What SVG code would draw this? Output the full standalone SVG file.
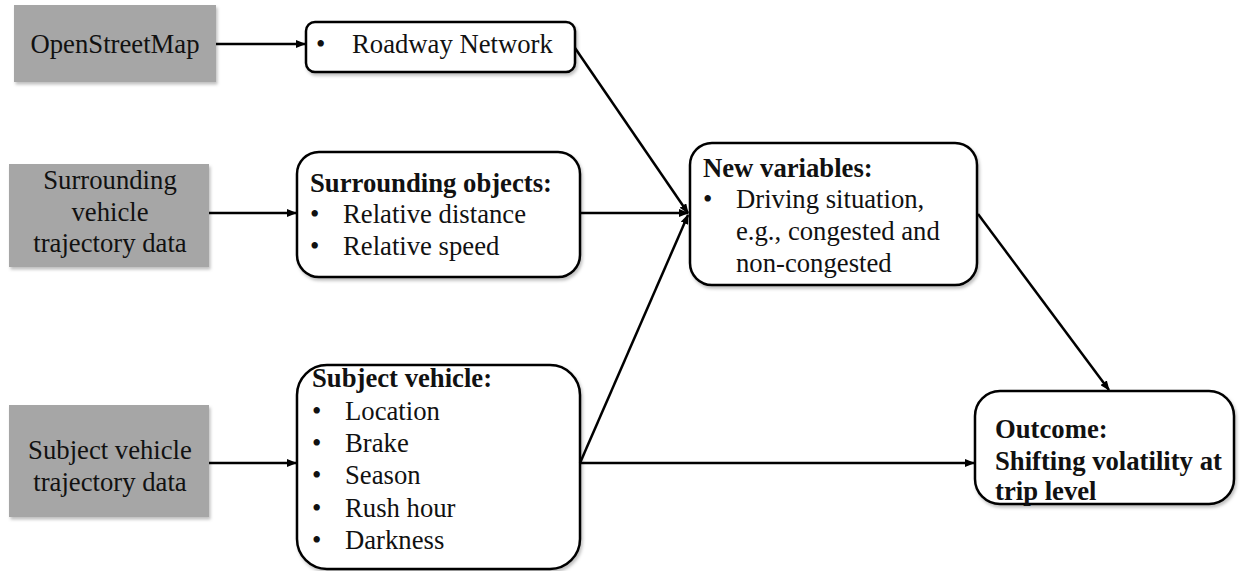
<svg xmlns="http://www.w3.org/2000/svg" width="1241" height="571" viewBox="0 0 1241 571">
  <defs>
    <style>
      text { font-family: "Liberation Serif", "Times New Roman", serif; font-size: 26.7px; fill: #111; }
      .b { font-weight: bold; }
      .src { fill: #a6a6a6; }
      .box { fill: #fff; stroke: #000; stroke-width: 2.5; }
      .conn { stroke: #000; stroke-width: 2.5; fill: none; }
    </style>
    <filter id="shadow" x="-5%" y="-5%" width="115%" height="120%">
      <feDropShadow dx="1.5" dy="2.5" stdDeviation="1.5" flood-color="#000" flood-opacity="0.25"/>
    </filter>
    <marker id="arrow" markerUnits="userSpaceOnUse" markerWidth="10" markerHeight="8" refX="9" refY="4" orient="auto">
      <path d="M0,0 L10,4 L0,8 z" fill="#000"/>
    </marker>
  </defs>

  <!-- data sources -->
  <g id="osm">
    <rect class="src" x="14" y="5" width="202" height="77" filter="url(#shadow)"/>
    <text x="115" y="53" text-anchor="middle">OpenStreetMap</text>
  </g>
  <g id="surrounding-data">
    <rect class="src" x="9" y="164" width="200" height="103" filter="url(#shadow)"/>
    <text x="110" y="189" text-anchor="middle">Surrounding</text>
    <text x="110" y="221" text-anchor="middle">vehicle</text>
    <text x="110" y="252" text-anchor="middle">trajectory data</text>
  </g>
  <g id="subject-data">
    <rect class="src" x="9" y="405" width="200" height="112" filter="url(#shadow)"/>
    <text x="110" y="459" text-anchor="middle">Subject vehicle</text>
    <text x="110" y="491" text-anchor="middle">trajectory data</text>
  </g>

  <!-- variable groups -->
  <g id="roadway">
    <rect class="box" x="306" y="22" width="269" height="50" rx="9" filter="url(#shadow)"/>
    <text x="316" y="53">•</text>
    <text x="352" y="53">Roadway Network</text>
  </g>
  <g id="surrounding-objects">
    <rect class="box" x="297" y="152" width="283" height="125" rx="22" filter="url(#shadow)"/>
    <text class="b" x="310" y="192">Surrounding objects:</text>
    <text x="310" y="223">•</text>
    <text x="343" y="223">Relative distance</text>
    <text x="310" y="255">•</text>
    <text x="343" y="255">Relative speed</text>
  </g>
  <g id="subject-vehicle">
    <rect class="box" x="297" y="365" width="283" height="204" rx="30" filter="url(#shadow)"/>
    <text class="b" x="312" y="387">Subject vehicle:</text>
    <text x="312" y="420">•</text>
    <text x="345" y="420">Location</text>
    <text x="312" y="452">•</text>
    <text x="345" y="452">Brake</text>
    <text x="312" y="484">•</text>
    <text x="345" y="484">Season</text>
    <text x="312" y="517">•</text>
    <text x="345" y="517">Rush hour</text>
    <text x="312" y="549">•</text>
    <text x="345" y="549">Darkness</text>
  </g>
  <g id="new-variables">
    <rect class="box" x="690" y="143" width="287" height="142" rx="22" filter="url(#shadow)"/>
    <text class="b" x="703" y="177">New variables:</text>
    <text x="703" y="208">•</text>
    <text x="736" y="208">Driving situation,</text>
    <text x="736" y="240">e.g., congested and</text>
    <text x="736" y="272">non-congested</text>
  </g>
  <g id="outcome">
    <rect class="box" x="975" y="391" width="259" height="113" rx="25" filter="url(#shadow)"/>
    <text class="b" x="995" y="438">Outcome:</text>
    <text class="b" x="995" y="470">Shifting volatility at</text>
    <text class="b" x="995" y="500">trip level</text>
  </g>

  <!-- connectors -->
  <g id="connectors">
    <line class="conn" x1="216" y1="44" x2="305" y2="44" marker-end="url(#arrow)"/>
    <line class="conn" x1="209" y1="213" x2="296" y2="213" marker-end="url(#arrow)"/>
    <line class="conn" x1="209" y1="463" x2="296" y2="463" marker-end="url(#arrow)"/>
    <line class="conn" x1="575" y1="48" x2="688" y2="213" marker-end="url(#arrow)"/>
    <line class="conn" x1="580" y1="213" x2="688" y2="213" marker-end="url(#arrow)"/>
    <line class="conn" x1="580" y1="463" x2="688" y2="215" marker-end="url(#arrow)"/>
    <line class="conn" x1="580" y1="463" x2="974" y2="463" marker-end="url(#arrow)"/>
    <line class="conn" x1="978" y1="214" x2="1109" y2="390" marker-end="url(#arrow)"/>
  </g>
</svg>
